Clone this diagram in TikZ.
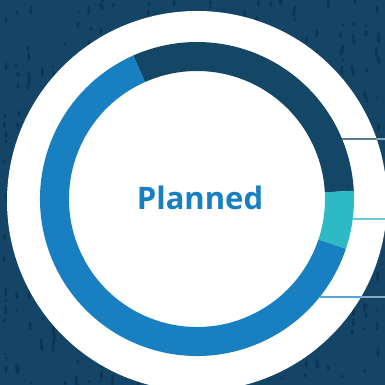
\documentclass[tikz,border=0pt]{standalone}
\usepackage{fontspec}
\setmainfont{Open Sans}
\usetikzlibrary{calc}
\definecolor{bgnavy}{HTML}{144567}
\definecolor{bgspot}{HTML}{0D3653}
\definecolor{ringdark}{HTML}{144766}
\definecolor{ringteal}{HTML}{2DBAC4}
\definecolor{ringblue}{HTML}{1880C0}
\definecolor{leadlight}{HTML}{C9DCE8}
\tikzset{
  ringpart/.style={draw=none},
  leadline/.style={line width=1.3pt},
}
\begin{document}
\begin{tikzpicture}[x=1pt,y=1pt]

\fill [bgnavy] (0,0) rectangle (385,385);
\useasboundingbox (0,0) rectangle (385,385);

% speckled background
\pgfmathsetseed{11}
\foreach \col in {0,...,32}{
  \foreach \k in {1,...,18}{
    \pgfmathsetmacro{\px}{4+12*\col+rnd*3}
    \pgfmathsetmacro{\py}{rnd*385}
    \pgfmathsetmacro{\ph}{1.2+rnd*4}
    \fill [bgspot] (\px,\py) ellipse [x radius=1.5pt, y radius=\ph pt];
  }
}

\fill [white] (197,184) circle [radius=190pt];

\coordinate (ring-c) at (197,186);

\fill [ringpart,ringdark] ($(ring-c)+(114:157pt)$) arc [start angle=114, end angle=3, radius=157pt]
  -- ($(ring-c)+(3:128pt)$) arc [start angle=3, end angle=114, radius=128pt] -- cycle;
\fill [ringpart,ringteal] ($(ring-c)+(3:157pt)$) arc [start angle=3, end angle=-18.5, radius=157pt]
  -- ($(ring-c)+(-18.5:128pt)$) arc [start angle=-18.5, end angle=3, radius=128pt] -- cycle;
\fill [ringpart,ringblue] ($(ring-c)+(-18.5:157pt)$) arc [start angle=-18.5, end angle=-246, radius=157pt]
  -- ($(ring-c)+(114:128pt)$) arc [start angle=-246, end angle=-18.5, radius=128pt] -- cycle;

\node [font=\bfseries\fontsize{31}{31}\selectfont, text=ringblue] (ring-label) at (200,187) {Planned};

%%%%%%%%%%%%%%%%%%%%%%%%%%%%%%%%%%%%%%%%%%%%%%%%%%%%%%%%%%%%%%%%%

\coordinate (lead-dark) at ($(ring-c)+(22.5:157pt)$);
\coordinate (lead-teal) at ($(ring-c)+(-7.3:157pt)$);
\coordinate (lead-blue) at ($(ring-c)+(-38.6:157pt)$);
\coordinate (end-dark) at (385,246);
\coordinate (end-teal) at (385,166);
\coordinate (end-blue) at (385,88);

\draw [leadline,leadlight] (lead-dark) -- (end-dark);
\draw [leadline,leadlight] (lead-teal) -- (end-teal);
\draw [leadline,leadlight] (lead-blue) -- (end-blue);

\begin{scope}
\clip (197,184) circle [radius=190pt];
\draw [leadline,ringdark] (lead-dark) -- (end-dark);
\draw [leadline,ringteal] (lead-teal) -- (end-teal);
\draw [leadline,ringblue] (lead-blue) -- (end-blue);
\end{scope}

\end{tikzpicture}
\end{document}
